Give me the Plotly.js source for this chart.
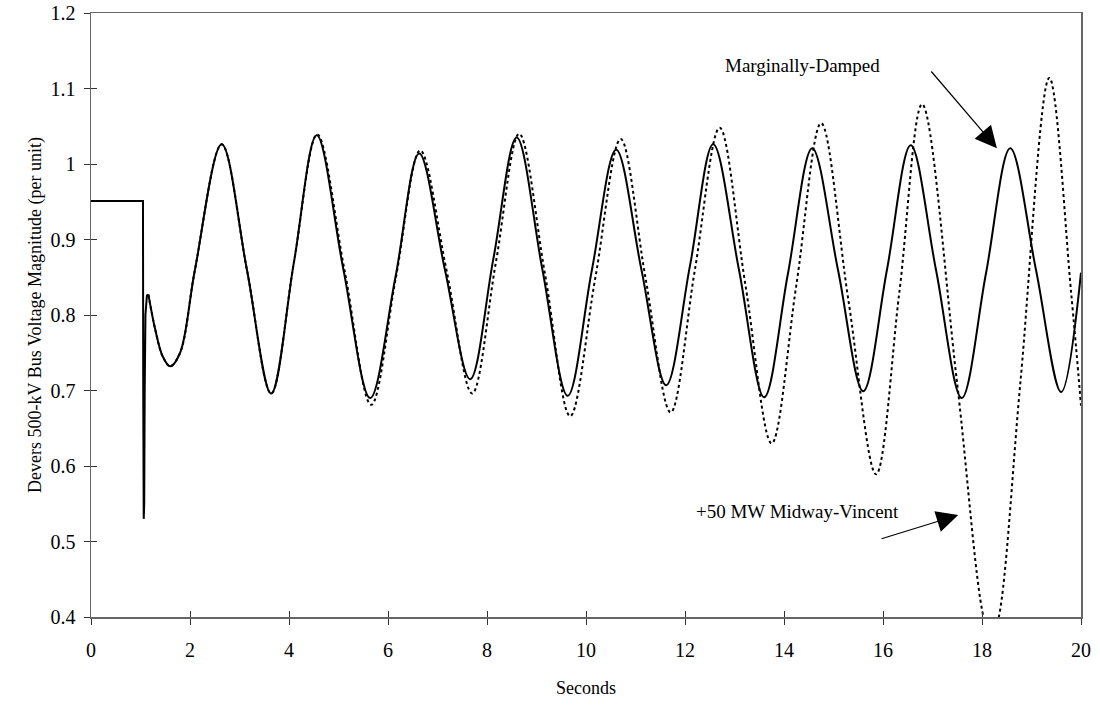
<!DOCTYPE html>
<html>
<head>
<meta charset="utf-8">
<script src="https://cdn.plot.ly/plotly-3.0.1.min.js"></script>
<style>html,body{margin:0;padding:0;background:#fff;}#chart{width:1100px;height:708px;}</style>
</head>
<body>
<div id="chart"></div>
<script>
// Pre-fault level and fault transient (shared by both cases)
var faultTime = [0, 1.05, 1.055, 1.065, 1.075, 1.085, 1.10, 1.13, 1.16];
var faultVolt = [0.951, 0.951, 0.70, 0.53, 0.55, 0.70, 0.80, 0.826, 0.827];

// Marginally-Damped case (solid)
var dampedTime = [1.16, 1.30, 1.45, 1.60, 1.80, 2.10, 2.64, 3.15, 3.64, 4.10, 4.56, 5.10, 5.64, 6.15, 6.63, 7.15, 7.66, 8.13, 8.60, 9.12, 9.63, 10.12, 10.61, 11.12, 11.62, 12.10, 12.57, 13.09, 13.60, 14.08, 14.57, 15.09, 15.60, 16.08, 16.56, 17.07, 17.59, 18.08, 18.57, 19.09, 19.60, 20.00];
var dampedVolt = [0.827, 0.780, 0.745, 0.732, 0.750, 0.860, 1.026, 0.860, 0.696, 0.870, 1.038, 0.860, 0.690, 0.850, 1.014, 0.860, 0.715, 0.875, 1.035, 0.860, 0.693, 0.860, 1.019, 0.860, 0.707, 0.865, 1.026, 0.860, 0.691, 0.855, 1.021, 0.860, 0.699, 0.860, 1.025, 0.860, 0.690, 0.855, 1.021, 0.860, 0.698, 0.856];

// +50 MW Midway-Vincent case (dotted)
var midwayTime = [1.16, 1.30, 1.45, 1.60, 1.80, 2.10, 2.64, 3.15, 3.64, 4.10, 4.57, 5.12, 5.66, 6.16, 6.65, 7.18, 7.70, 8.18, 8.65, 9.17, 9.68, 10.19, 10.70, 11.20, 11.71, 12.20, 12.70, 13.22, 13.75, 14.25, 14.75, 15.30, 15.86, 16.33, 16.79, 17.49, 18.03, 18.19, 18.34, 18.78, 19.36, 19.80, 20.00];
var midwayVolt = [0.827, 0.780, 0.745, 0.732, 0.750, 0.860, 1.026, 0.860, 0.696, 0.870, 1.039, 0.860, 0.681, 0.850, 1.018, 0.860, 0.696, 0.870, 1.040, 0.855, 0.666, 0.850, 1.033, 0.850, 0.671, 0.860, 1.048, 0.840, 0.630, 0.840, 1.054, 0.820, 0.589, 0.830, 1.079, 0.714, 0.400, 0.370, 0.400, 0.714, 1.114, 0.830, 0.680];

var xTicks = [0, 2, 4, 6, 8, 10, 12, 14, 16, 18, 20];
var yTicks = [0.4, 0.5, 0.6, 0.7, 0.8, 0.9, 1, 1.1, 1.2];
var yTickText = ['0.4', '0.5', '0.6', '0.7', '0.8', '0.9', '1', '1.1', '1.2'];

var serif = 'Liberation Serif, Times New Roman, serif';

var traces = [
  {x: midwayTime, y: midwayVolt, mode: 'lines', line: {color: '#000', width: 2, dash: 'dot', shape: 'spline', smoothing: 1}, showlegend: false, hoverinfo: 'skip'},
  {x: faultTime, y: faultVolt, mode: 'lines', line: {color: '#000', width: 2}, showlegend: false, hoverinfo: 'skip'},
  {x: dampedTime, y: dampedVolt, mode: 'lines', line: {color: '#000', width: 2, shape: 'spline', smoothing: 1}, showlegend: false, hoverinfo: 'skip'},
  {x: [0], y: [0.4], xaxis: 'x2', yaxis: 'y2', mode: 'markers', marker: {opacity: 0}, showlegend: false, hoverinfo: 'skip'}
];

var layout = {
  width: 1100, height: 708,
  margin: {l: 91, r: 19, t: 13, b: 91},
  paper_bgcolor: '#fff', plot_bgcolor: '#fff',
  font: {family: serif, color: '#000', size: 16},
  showlegend: false,
  xaxis: {
    range: [0, 20], tickmode: 'array', tickvals: xTicks,
    ticks: 'outside', ticklen: 6, tickcolor: '#333', tickwidth: 1,
    showline: true, linecolor: '#666', linewidth: 1.5, mirror: true,
    showgrid: false, zeroline: false,
    tickfont: {family: serif, size: 20, color: '#000'},
    ticklabelstandoff: 8,
    title: {text: 'Seconds', font: {family: serif, size: 18, color: '#000'}, standoff: 22}
  },
  yaxis: {
    range: [0.4, 1.2], tickmode: 'array', tickvals: yTicks, ticktext: yTickText,
    ticks: 'outside', ticklen: 6, tickcolor: '#333', tickwidth: 1,
    showline: true, linecolor: '#666', linewidth: 1.5, mirror: true,
    showgrid: false, zeroline: false,
    tickfont: {family: serif, size: 20, color: '#000'},
    ticklabelstandoff: 4,
    title: {text: 'Devers 500-kV Bus Voltage Magnitude (per unit)', font: {family: serif, size: 18, color: '#000'}, standoff: 4}
  },
  xaxis2: {
    overlaying: 'x', range: [0, 20], tickmode: 'array', tickvals: xTicks,
    ticks: 'inside', ticklen: 6, tickcolor: '#333', showticklabels: false,
    showline: false, showgrid: false, zeroline: false, side: 'bottom'
  },
  yaxis2: {
    overlaying: 'y', range: [0.4, 1.2], tickmode: 'array', tickvals: yTicks,
    ticks: 'inside', ticklen: 6, tickcolor: '#333', showticklabels: false,
    showline: false, showgrid: false, zeroline: false, side: 'left'
  },
  annotations: [
    {x: 14.38, y: 1.131, xref: 'x', yref: 'y', text: 'Marginally-Damped', showarrow: false,
     font: {family: serif, size: 19, color: '#000'}},
    {x: 18.30, y: 1.021, xref: 'x', yref: 'y', ax: 16.95, ay: 1.1245, axref: 'x', ayref: 'y',
     text: '', showarrow: true, arrowhead: 2, arrowsize: 3.6, arrowwidth: 1.2, arrowcolor: '#000'},
    {x: 14.28, y: 0.540, xref: 'x', yref: 'y', text: '+50 MW Midway-Vincent', showarrow: false,
     font: {family: serif, size: 19, color: '#000'}},
    {x: 17.52, y: 0.535, xref: 'x', yref: 'y', ax: 15.94, ay: 0.503, axref: 'x', ayref: 'y',
     text: '', showarrow: true, arrowhead: 2, arrowsize: 3.6, arrowwidth: 1.2, arrowcolor: '#000'}
  ]
};

Plotly.newPlot('chart', traces, layout, {staticPlot: true, displayModeBar: false});
</script>
</body>
</html>
